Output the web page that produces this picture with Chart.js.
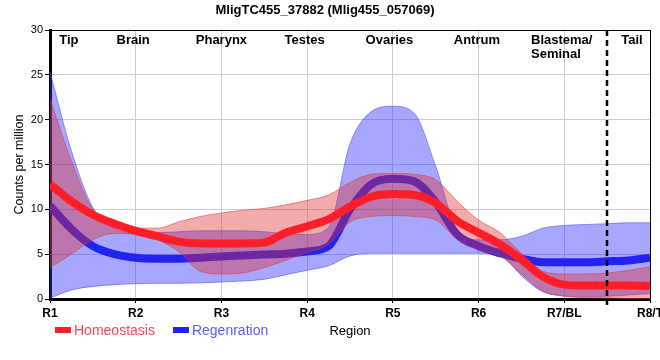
<!DOCTYPE html>
<html>
<head>
<meta charset="utf-8">
<script src="https://cdn.jsdelivr.net/npm/chart.js@4.4.1/dist/chart.umd.min.js"></script>
<style>
  body { margin: 0; background: #fff; }
  .wrap { position: relative; width: 660px; height: 360px; }
  .legend { position: absolute; left: 55px; top: 322px; display: flex; font: 14px "Liberation Sans", Arial, sans-serif; line-height: 16px; }
  .legend-item { display: flex; align-items: center; margin-right: 18px; }
  .legend-box { display: inline-block; width: 16px; height: 6px; margin-right: 3px; }
</style>
</head>
<body>
<div class="wrap">
  <canvas id="chart" width="660" height="360"></canvas>
  <div class="legend" id="legend"></div>
</div>
<script>
const FONT = '"Liberation Sans", Arial, sans-serif'

// region positions along the body, R1 = 0 ... R8/T = 7
const positions = [0, 0.25, 0.5, 0.75, 1, 1.25, 1.5, 1.75, 2, 2.25, 2.5, 2.75, 3, 3.25, 3.5, 3.75, 4, 4.25, 4.5, 4.75, 5, 5.25, 5.5, 5.75, 6, 6.25, 6.5, 6.75, 7]
const tickLabels = ["R1", "R2", "R3", "R4", "R5", "R6", "R7/BL", "R8/T"]

const homeoMean = [12.8, 10.9, 9.4, 8.4, 7.6, 7.0, 6.4, 6.2, 6.2, 6.2, 6.3, 7.4, 8.1, 8.9, 10.3, 11.4, 11.7, 11.6, 10.7, 8.7, 7.4, 6.1, 4.4, 2.5, 1.6, 1.5, 1.5, 1.5, 1.45]
const homeoHigh = [22.3, 15.4, 10.0, 8.8, 7.9, 7.9, 8.6, 9.2, 9.6, 9.9, 10.1, 10.5, 11.0, 11.6, 13.0, 13.9, 14.0, 13.9, 13.3, 10.9, 8.8, 7.4, 5.1, 3.1, 2.8, 2.8, 2.9, 3.2, 3.6]
const homeoLow = [3.5, 5.0, 6.6, 7.3, 7.2, 6.6, 5.3, 3.1, 2.8, 2.9, 3.5, 4.3, 5.2, 6.1, 8.6, 9.2, 9.3, 9.2, 8.8, 6.7, 5.5, 4.8, 2.8, 0.9, 0.3, 0.15, 0.1, 0.05, 0]

const regenMean = [10.4, 7.8, 5.9, 5.0, 4.6, 4.5, 4.5, 4.6, 4.75, 4.85, 4.95, 5.05, 5.3, 5.9, 10.0, 12.8, 13.4, 13.1, 10.8, 7.2, 5.9, 5.1, 4.5, 4.1, 4.1, 4.1, 4.2, 4.3, 4.6]
const regenHigh = [25.3, 16.5, 10.2, 7.9, 7.4, 7.4, 7.5, 7.6, 7.6, 7.6, 7.5, 7.3, 7.2, 8.0, 17.3, 20.9, 21.5, 20.7, 14.8, 7.7, 6.6, 6.6, 7.0, 7.9, 8.2, 8.3, 8.4, 8.5, 8.5]
const regenLow = [0.1, 1.0, 1.4, 1.6, 1.7, 1.75, 1.75, 1.8, 1.9, 2.0, 2.2, 2.7, 3.2, 3.7, 4.8, 5.1, 5.1, 5.1, 5.1, 5.1, 5.1, 4.9, 2.6, 0.8, 0.35, 0.25, 0.3, 0.45, 0.6]

const regionNames = ["Tip", "Brain", "Pharynx", "Testes", "Ovaries", "Antrum", "Blastema/\nSeminal", "Tail"]
const regionAt = [0.22, 0.97, 2, 2.97, 3.96, 4.98, 5.97, 6.79]
const dividerAt = 6.5

function toPoints(values) {
  return values.map((v, i) => ({ x: positions[i], y: v }))
}

function meanLine(label, values, color, order, legendText) {
  return {
    label: label,
    data: toPoints(values),
    borderColor: color,
    borderWidth: 8,
    fill: false,
    order: order,
    legendColor: color,
    legendText: legendText,
  }
}

function bandEdge(values, edgeColor, fillColor, order, fill) {
  return {
    label: "",
    data: toPoints(values),
    borderColor: edgeColor,
    borderWidth: 1,
    backgroundColor: fillColor,
    fill: fill,
    order: order,
  }
}

const regionPlugin = {
  id: "regionLabels",
  afterDraw(chart) {
    const { ctx, chartArea, scales } = chart
    const x = scales.x
    ctx.save()

    ctx.strokeStyle = "#000"
    ctx.lineWidth = 1
    ctx.beginPath()
    ctx.moveTo(chartArea.left, chartArea.top + 0.5)
    ctx.lineTo(chartArea.right, chartArea.top + 0.5)
    ctx.moveTo(chartArea.right + 0.5, chartArea.top)
    ctx.lineTo(chartArea.right + 0.5, chartArea.bottom)
    ctx.stroke()

    const dx = Math.round(x.getPixelForValue(dividerAt))
    ctx.lineWidth = 2.5
    ctx.setLineDash([6, 4])
    ctx.beginPath()
    ctx.moveTo(dx, chartArea.top)
    ctx.lineTo(dx, chartArea.bottom + 6)
    ctx.stroke()
    ctx.setLineDash([])

    ctx.font = "bold 13px " + FONT
    ctx.fillStyle = "#000"
    ctx.textBaseline = "top"
    regionNames.forEach((name, i) => {
      const lines = name.split("\n")
      const w = Math.max(...lines.map((l) => ctx.measureText(l).width))
      const left = x.getPixelForValue(regionAt[i]) - w / 2
      lines.forEach((l, j) => ctx.fillText(l, left, chartArea.top + 4 + j * 14))
    })
    ctx.restore()
  },
}

const chart = new Chart(document.getElementById("chart"), {
  type: "line",
  data: {
    datasets: [
      meanLine("Homeostasis", homeoMean, "rgb(255, 30, 40)", 0, "#ff4458"),
      bandEdge(homeoHigh, "rgba(215, 60, 60, 0.55)", "rgba(220, 45, 45, 0.4)", 1, "+1"),
      bandEdge(homeoLow, "rgba(215, 60, 60, 0.55)", "rgba(220, 45, 45, 0.4)", 1, false),
      meanLine("Regenration", regenMean, "rgb(35, 35, 240)", 2, "#5a5aff"),
      bandEdge(regenHigh, "rgba(70, 70, 255, 0.55)", "rgba(45, 45, 255, 0.42)", 3, "+1"),
      bandEdge(regenLow, "rgba(70, 70, 255, 0.55)", "rgba(45, 45, 255, 0.42)", 3, false),
    ],
  },
  options: {
    responsive: false,
    animation: false,
    devicePixelRatio: 1,
    layout: { padding: { right: 10 } },
    elements: {
      point: { radius: 0, hoverRadius: 0 },
      line: { cubicInterpolationMode: "monotone" },
    },
    plugins: {
      legend: { display: false },
      tooltip: { enabled: false },
      title: {
        display: true,
        text: "MligTC455_37882 (Mlig455_057069)",
        color: "#000",
        font: { family: FONT, size: 13, weight: "bold" },
        padding: { top: 3, bottom: 11.4 },
      },
    },
    scales: {
      x: {
        type: "linear",
        min: 0,
        max: 7,
        ticks: {
          stepSize: 1,
          color: "#000",
          padding: 3,
          font: { family: FONT, size: 12, weight: "bold" },
          callback: (v) => tickLabels[v],
        },
        grid: { color: "#cccccc", tickLength: 4, tickColor: "#000" },
        border: { color: "#000", width: 3 },
        title: {
          display: true,
          text: "Region",
          color: "#000",
          font: { family: FONT, size: 13 },
          padding: { top: 0, bottom: 21 },
        },
        afterFit: (s) => {
          s.height = 61
          s.paddingLeft = 0
          s.paddingRight = 0
        },
      },
      y: {
        min: 0,
        max: 30,
        ticks: {
          stepSize: 5,
          color: "#000",
          padding: 2,
          font: { family: FONT, size: 11 },
        },
        grid: { color: "#cccccc", tickLength: 5, tickColor: "#000" },
        border: { color: "#000", width: 3 },
        title: {
          display: true,
          text: "Counts per million",
          color: "#000",
          font: { family: FONT, size: 12.5 },
          padding: { top: 12, bottom: 0 },
        },
        afterFit: (s) => {
          s.width = 50
        },
      },
    },
  },
  plugins: [regionPlugin],
})

document.getElementById("legend").innerHTML = chart.data.datasets
  .filter((d) => d.legendColor)
  .map(
    (d) => `
      <div class="legend-item">
        <span class="legend-box" style="background:${d.legendColor}"></span>
        <span style="color:${d.legendText}">${d.label}</span>
      </div>`,
  )
  .join("")
</script>
</body>
</html>
